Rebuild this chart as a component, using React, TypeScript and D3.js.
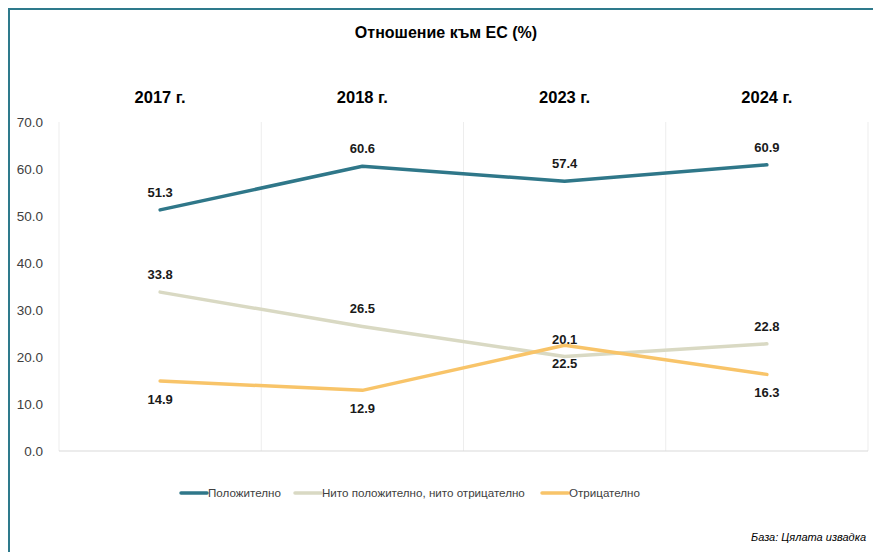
import React, { useEffect, useRef } from "react";
import * as d3 from "d3";

const years = ["2017 г.", "2018 г.", "2023 г.", "2024 г."];
const positive = [51.3, 60.6, 57.4, 60.9];
const neutral = [33.8, 26.5, 20.1, 22.8];
const negative = [14.9, 12.9, 22.5, 16.3];
const yTicks = [0, 10, 20, 30, 40, 50, 60, 70];

const seriesNames = ["Положително", "Нито положително, нито отрицателно", "Отрицателно"];
const seriesColors = ["#2F7789", "#D9D9C3", "#F8C469"];

const FONT = "'Liberation Sans', Arial, sans-serif";

const App: React.FC = () => {
  const svgRef = useRef<SVGSVGElement | null>(null);

  useEffect(() => {
    const width = 873;
    const height = 552;
    const svg = d3.select(svgRef.current);
    svg.selectAll("*").remove();
    svg.attr("width", width).attr("height", height);

    svg.append("rect").attr("width", width).attr("height", height).attr("fill", "#fff");

    // outer frame (only top and left visible)
    svg.append("path")
      .attr("d", `M9,${height} L9,9 L${width},9`)
      .attr("fill", "none")
      .attr("stroke", "#2E7A8C")
      .attr("stroke-width", 2);

    const plotLeft = 59;
    const plotRight = 868;
    const plotTop = 122;
    const plotBottom = 451;

    const x = d3.scaleBand<string>().domain(years).range([plotLeft, plotRight]);
    const y = d3.scaleLinear().domain([0, 70]).range([plotBottom, plotTop]);

    // vertical gridlines at band edges
    const edges = years.map(d => x(d)!).concat([plotRight]);
    svg.append("g")
      .selectAll("line")
      .data(edges)
      .join("line")
      .attr("x1", d => d)
      .attr("x2", d => d)
      .attr("y1", plotTop)
      .attr("y2", plotBottom)
      .attr("stroke", "#EDEDED")
      .attr("stroke-width", 1);

    // baseline
    svg.append("line")
      .attr("x1", plotLeft)
      .attr("x2", plotRight)
      .attr("y1", y(0))
      .attr("y2", y(0))
      .attr("stroke", "#D9D9D9")
      .attr("stroke-width", 1);

    // y tick labels
    svg.append("g")
      .selectAll("text")
      .data(yTicks)
      .join("text")
      .attr("x", 43)
      .attr("y", d => y(d))
      .attr("dy", "0.35em")
      .attr("text-anchor", "end")
      .style("font-family", FONT)
      .style("font-size", "13.5px")
      .attr("fill", "#404040")
      .text(d => d.toFixed(1));

    // title
    svg.append("text")
      .attr("x", 446)
      .attr("y", 38)
      .attr("text-anchor", "middle")
      .style("font-family", FONT)
      .style("font-size", "16px")
      .style("font-weight", "bold")
      .attr("fill", "#000")
      .text("Отношение към ЕС (%)");

    // year headers
    svg.append("g")
      .selectAll("text")
      .data(years)
      .join("text")
      .attr("x", d => x(d)! + x.bandwidth() / 2)
      .attr("y", 103)
      .attr("text-anchor", "middle")
      .style("font-family", FONT)
      .style("font-size", "16.5px")
      .style("font-weight", "bold")
      .attr("fill", "#000")
      .text(d => d);

    const allSeries = [positive, neutral, negative];
    const labelOffset = [-13, -13, 23];

    const line = d3.line<number>()
      .x((_, i) => x(years[i])! + x.bandwidth() / 2)
      .y(d => y(d));

    allSeries.forEach((vals, s) => {
      svg.append("path")
        .datum(vals)
        .attr("d", line)
        .attr("fill", "none")
        .attr("stroke", seriesColors[s])
        .attr("stroke-width", 3.5)
        .attr("stroke-linecap", "round")
        .attr("stroke-linejoin", "round");
    });

    allSeries.forEach((vals, s) => {
      svg.append("g")
        .selectAll("text")
        .data(vals)
        .join("text")
        .attr("x", (_, i) => x(years[i])! + x.bandwidth() / 2)
        .attr("y", d => y(d) + labelOffset[s])
        .attr("text-anchor", "middle")
        .style("font-family", FONT)
        .style("font-size", "13px")
        .style("font-weight", "bold")
        .attr("fill", "#1a1a1a")
        .text(d => d.toFixed(1));
    });

    // legend
    const legendX = [180, 294, 541];
    const legendY = 493;
    seriesNames.forEach((name, s) => {
      const g = svg.append("g").attr("transform", `translate(${legendX[s]},${legendY})`);
      g.append("line")
        .attr("x1", 1)
        .attr("x2", 27)
        .attr("y1", 0)
        .attr("y2", 0)
        .attr("stroke", seriesColors[s])
        .attr("stroke-width", 3.5)
        .attr("stroke-linecap", "round");
      g.append("text")
        .attr("x", 28)
        .attr("y", 0)
        .attr("dy", "0.35em")
        .style("font-family", FONT)
        .style("font-size", "11.6px")
        .attr("fill", "#404040")
        .text(name);
    });

    // footnote
    svg.append("text")
      .attr("x", 866)
      .attr("y", 541)
      .attr("text-anchor", "end")
      .style("font-family", FONT)
      .style("font-size", "11px")
      .style("font-style", "italic")
      .attr("fill", "#000")
      .text("База: Цялата извадка");
  }, []);

  return (
    <svg
      ref={svgRef}
      style={{ position: "absolute", left: 0, top: 0, display: "block" }}
    ></svg>
  );
};

export default App;
